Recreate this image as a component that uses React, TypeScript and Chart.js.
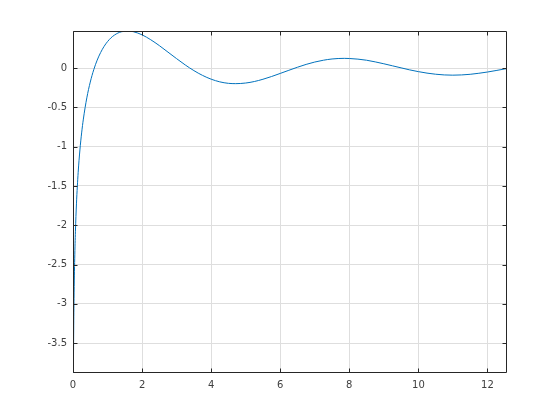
import React, { useEffect, useRef } from "react";
import { Chart, registerables } from "chart.js";

Chart.register(...registerables);

// Curve samples (x, y)
const xValues: number[] = [
  0.0116, 0.02, 0.03, 0.05, 0.07, 0.1, 0.15, 0.2, 0.25, 0.3, 0.4, 0.5, 0.6, 0.7, 0.8, 0.9,
  1.0, 1.1, 1.2, 1.3, 1.4, 1.5, 1.5708, 1.75, 2.0, 2.25, 2.5, 2.75, 3.0, 3.25, 3.5, 3.75,
  4.0, 4.25, 4.5, 4.7124, 5.0, 5.25, 5.5, 5.75, 6.0, 6.25, 6.5, 6.75, 7.0, 7.25, 7.5, 7.854,
  8.0, 8.25, 8.5, 8.75, 9.0, 9.25, 9.5, 9.75, 10.0, 10.25, 10.5, 10.75, 10.996, 11.25, 11.5,
  11.75, 12.0, 12.25, 12.5, 12.566,
];
const yValues: number[] = [
  -3.88, -3.335, -2.93, -2.419, -2.083, -1.728, -1.326, -1.042, -0.825, -0.649, -0.379, -0.178,
  -0.022, 0.101, 0.198, 0.276, 0.337, 0.385, 0.42, 0.446, 0.462, 0.47, 0.472, 0.463, 0.423,
  0.361, 0.286, 0.203, 0.12, 0.04, -0.032, -0.093, -0.141, -0.175, -0.194, -0.198, -0.19,
  -0.171, -0.142, -0.107, -0.068, -0.028, 0.011, 0.047, 0.077, 0.1, 0.116, 0.124, 0.122, 0.114,
  0.1, 0.079, 0.055, 0.029, 0.003, -0.023, -0.045, -0.064, -0.078, -0.087, -0.09, -0.087,
  -0.079, -0.066, -0.05, -0.031, -0.011, -0.006,
];

const xTicks: number[] = [0, 2, 4, 6, 8, 10, 12];
const yTicks: number[] = [-3.5, -3, -2.5, -2, -1.5, -1, -0.5, 0];
const xMin = 0;
const xMax = 12.566;
const yMin = -3.88;
const yMax = 0.472;

const boxPlugin = {
  id: "matlabBox",
  afterDraw(chart: any) {
    const { ctx, chartArea } = chart;
    const xs = chart.scales.x;
    const ys = chart.scales.y;
    const l = Math.round(chartArea.left) + 0.5;
    const r = Math.round(chartArea.right) - 0.5;
    const t = Math.round(chartArea.top) + 0.5;
    const b = Math.round(chartArea.bottom) - 0.5;
    const len = 4;
    ctx.save();
    ctx.strokeStyle = "#262626";
    ctx.lineWidth = 1;
    ctx.beginPath();
    ctx.rect(l, t, r - l, b - t);
    for (const v of xTicks) {
      const px = Math.round(xs.getPixelForValue(v)) + 0.5;
      ctx.moveTo(px, b);
      ctx.lineTo(px, b - len);
      ctx.moveTo(px, t);
      ctx.lineTo(px, t + len);
    }
    for (const v of yTicks) {
      const py = Math.round(ys.getPixelForValue(v)) + 0.5;
      ctx.moveTo(l, py);
      ctx.lineTo(l + len, py);
      ctx.moveTo(r, py);
      ctx.lineTo(r - len, py);
    }
    ctx.stroke();
    ctx.restore();
  },
};

export default function App() {
  const ref = useRef<HTMLCanvasElement | null>(null);

  useEffect(() => {
    if (!ref.current) return;
    const points = xValues.map((x, i) => ({ x, y: yValues[i] }));
    const chart = new Chart(ref.current, {
      type: "line",
      data: {
        datasets: [
          {
            data: points,
            borderColor: "#0072BD",
            borderWidth: 1,
            pointRadius: 0,
            fill: false,
            cubicInterpolationMode: "monotone",
          },
        ],
      },
      options: {
        responsive: false,
        animation: false,
        devicePixelRatio: 1,
        layout: { padding: { left: 0, top: 31, right: 53, bottom: 0 } },
        plugins: { legend: { display: false }, tooltip: { enabled: false } },
        scales: {
          x: {
            type: "linear",
            min: xMin,
            max: xMax,
            afterBuildTicks: (s: any) => {
              s.ticks = xTicks.map((v) => ({ value: v }));
            },
            afterFit: (s: any) => {
              s.height = 47;
            },
            grid: { color: "#dedede", drawTicks: false },
            border: { display: false },
            ticks: {
              padding: 6,
              color: "#404040",
              font: { family: "DejaVu Sans", size: 10 },
              maxRotation: 0,
              callback: (v: any) => String(v),
            },
          },
          y: {
            type: "linear",
            min: yMin,
            max: yMax,
            afterBuildTicks: (s: any) => {
              s.ticks = yTicks.map((v) => ({ value: v }));
            },
            afterFit: (s: any) => {
              s.width = 73;
            },
            grid: { color: "#dedede", drawTicks: false },
            border: { display: false },
            ticks: {
              padding: 6,
              color: "#404040",
              font: { family: "DejaVu Sans", size: 10 },
              callback: (v: any) => String(v),
            },
          },
        },
      },
      plugins: [boxPlugin],
    });
    return () => chart.destroy();
  }, []);

  return (
    <div style={{ position: "absolute", left: 0, top: 0, width: 560, height: 420, background: "#fff" }}>
      <canvas ref={ref} width={560} height={420} style={{ display: "block" }} />
    </div>
  );
}
